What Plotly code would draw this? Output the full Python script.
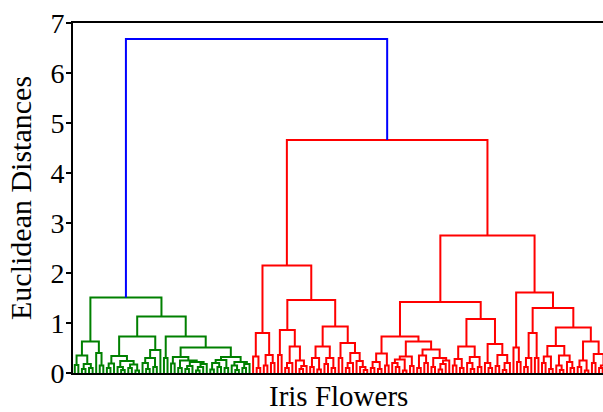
import numpy as np
import plotly.graph_objects as go

# Merge height between each pair of neighbouring leaves, in dendrogram leaf order.
# The tree is rebuilt by splitting recursively at the largest gap.
setosa_gaps = [
    0.16, 0.35, 0.08, 0.18, 0.10, 0.63, 0.40, 0.15, 1.51,
    0.10, 0.19, 0.34, 0.12, 0.06, 0.24, 0.10, 0.17, 0.05, 0.73,
    0.20, 0.08, 0.30, 0.12, 0.46, 1.13,
    0.30, 0.73,
    0.19, 0.32, 0.10, 0.25, 0.08, 0.14, 0.22, 0.05, 0.12, 0.18, 0.51,
    0.07, 0.20, 0.12, 0.26, 0.10, 0.32, 0.15, 0.06, 0.22, 0.10, 0.18,
]
top_join = 6.68
red_left_gaps = [
    0.33, 0.10, 0.80, 0.15, 0.36, 0.20, 2.15,
    0.36, 0.86, 0.10, 0.20, 0.53, 0.25, 0.08, 0.14, 1.46,
    0.12, 0.30, 0.07, 0.53, 0.18, 0.30, 0.10, 0.93,
    0.30, 0.60, 0.10, 0.20, 0.40, 0.24, 0.12, 0.06,
]
red_join = 4.66
red_right_gaps = [
    0.10, 0.22, 0.08, 0.39, 0.15, 0.73,
    0.20, 0.12, 0.27, 0.05, 0.33, 0.14, 0.63,
    0.10, 0.35, 0.20, 0.47, 0.12, 0.30, 0.07, 0.18, 0.25, 1.42,
    0.15, 0.28, 0.10, 0.53, 0.20, 0.08, 0.32, 0.12, 1.08,
    0.20, 0.10, 0.58, 0.14, 0.36, 0.06, 0.20, 2.75,
    0.51, 0.22, 1.61,
    0.12, 0.30, 0.80, 0.30, 1.30,
    0.20, 0.33, 0.08, 0.54, 0.15, 0.06, 0.35, 0.22, 0.10, 0.91,
    0.12, 0.25, 0.05, 0.63, 0.20, 0.38, 0.10, 0.15,
]

gaps = setosa_gaps + [top_join] + red_left_gaps + [red_join] + red_right_gaps
n_leaves = len(gaps) + 1
n_first = len(setosa_gaps) + 1

COLORS = {"g": "#008000", "r": "#ff0000", "b": "#0000ff"}
segs = {"g": ([], []), "r": ([], []), "b": ([], [])}


def build(lo, hi):
    """Return (x, height) of the node covering leaves lo..hi, recording its links."""
    if lo == hi:
        return 5.0 + 10.0 * lo, 0.0
    k = lo + int(np.argmax(gaps[lo:hi]))
    xl, hl = build(lo, k)
    xr, hr = build(k + 1, hi)
    h = gaps[k]
    if hi < n_first:
        c = "g"
    elif lo >= n_first:
        c = "r"
    else:
        c = "b"
    xs, ys = segs[c]
    xs += [xl, xl, xr, xr, None]
    ys += [hl, h, h, hr, None]
    return (xl + xr) / 2.0, h


build(0, n_leaves - 1)

fig = go.Figure()
for c in ["g", "r", "b"]:
    xs, ys = segs[c]
    fig.add_trace(go.Scatter(x=xs, y=ys, mode="lines",
                             line=dict(color=COLORS[c], width=2),
                             hoverinfo="skip", showlegend=False))

serif = "Liberation Serif"
fig.update_layout(
    width=603, height=412,
    margin=dict(l=73, r=0, t=23, b=39),
    plot_bgcolor="white", paper_bgcolor="white",
    xaxis=dict(range=[0, 1486], showticklabels=False, ticks="",
               showline=True, linecolor="black", linewidth=2, mirror=True,
               showgrid=False, zeroline=False),
    yaxis=dict(range=[0, 7], tickvals=list(range(8)), ticks="outside",
               ticklen=5, tickwidth=2, tickcolor="black",
               ticklabelstandoff=-4,
               showline=True, linecolor="black", linewidth=2,
               showgrid=False, zeroline=False,
               tickfont=dict(family=serif, size=28, color="black")),
    annotations=[
        dict(text="Iris Flowers", xref="paper", yref="paper",
             x=0.5, y=-0.066, xanchor="center", yanchor="middle",
             showarrow=False, font=dict(family=serif, size=29, color="black")),
        dict(text="Euclidean Distances", xref="paper", yref="paper",
             x=-0.1, y=0.5, xanchor="center", yanchor="middle", textangle=-90,
             showarrow=False, font=dict(family=serif, size=30, color="black")),
    ],
)

fig.write_html("out.html")
